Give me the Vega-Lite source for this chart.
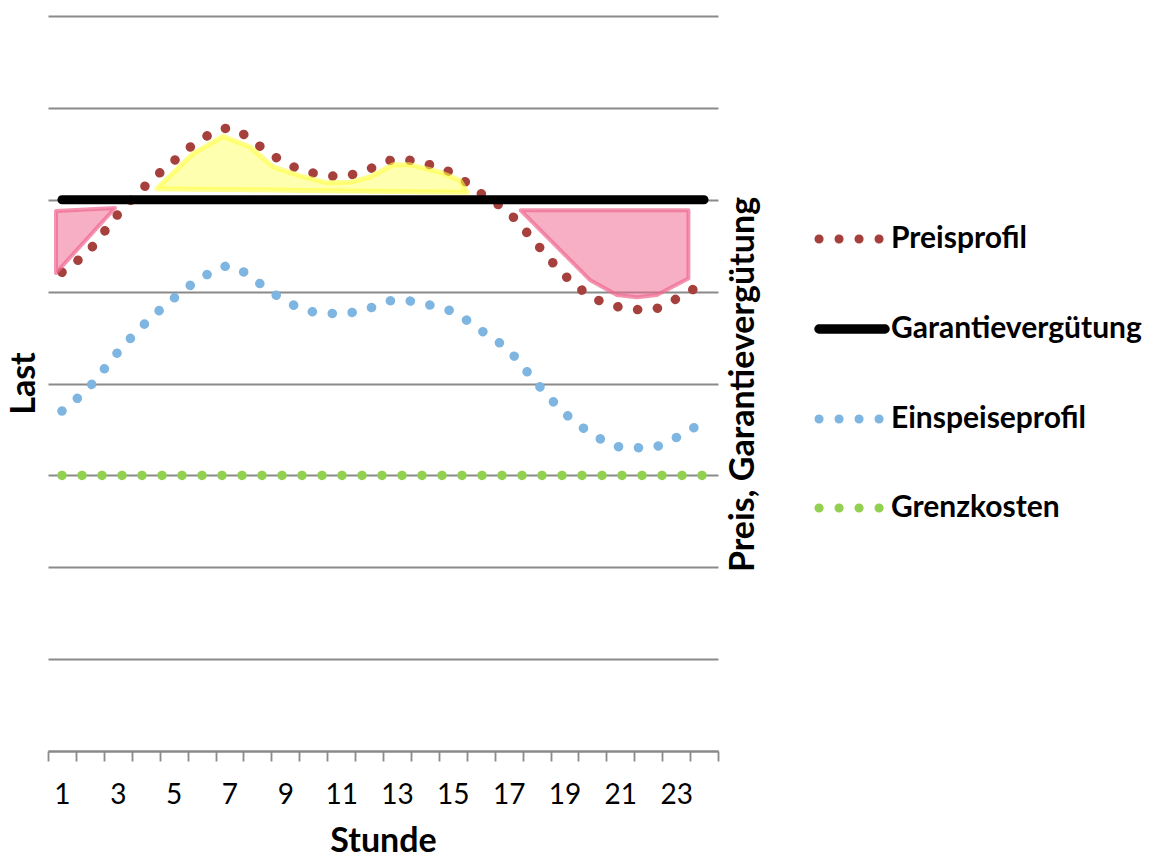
{
  "$schema": "https://vega.github.io/schema/vega-lite/v6.json",
  "width": 670,
  "height": 735,
  "autosize": "none",
  "padding": {"left": 48, "top": 16, "right": 431, "bottom": 106},
  "background": "white",
  "config": {"view": {"stroke": null}, "font": "Lato"},
  "datasets": {
    "lines": [
      {"series": "Grenzkosten", "hour": 1, "value": 3}, {"series": "Grenzkosten", "hour": 2, "value": 3}, {"series": "Grenzkosten", "hour": 3, "value": 3}, {"series": "Grenzkosten", "hour": 4, "value": 3}, {"series": "Grenzkosten", "hour": 5, "value": 3}, {"series": "Grenzkosten", "hour": 6, "value": 3}, {"series": "Grenzkosten", "hour": 7, "value": 3}, {"series": "Grenzkosten", "hour": 8, "value": 3}, {"series": "Grenzkosten", "hour": 9, "value": 3}, {"series": "Grenzkosten", "hour": 10, "value": 3}, {"series": "Grenzkosten", "hour": 11, "value": 3}, {"series": "Grenzkosten", "hour": 12, "value": 3}, {"series": "Grenzkosten", "hour": 13, "value": 3}, {"series": "Grenzkosten", "hour": 14, "value": 3}, {"series": "Grenzkosten", "hour": 15, "value": 3}, {"series": "Grenzkosten", "hour": 16, "value": 3}, {"series": "Grenzkosten", "hour": 17, "value": 3}, {"series": "Grenzkosten", "hour": 18, "value": 3}, {"series": "Grenzkosten", "hour": 19, "value": 3}, {"series": "Grenzkosten", "hour": 20, "value": 3}, {"series": "Grenzkosten", "hour": 21, "value": 3}, {"series": "Grenzkosten", "hour": 22, "value": 3}, {"series": "Grenzkosten", "hour": 23, "value": 3}, {"series": "Grenzkosten", "hour": 24, "value": 3},
      {"series": "Einspeiseprofil", "hour": 1, "value": 3.70}, {"series": "Einspeiseprofil", "hour": 2, "value": 3.97}, {"series": "Einspeiseprofil", "hour": 3, "value": 4.34}, {"series": "Einspeiseprofil", "hour": 4, "value": 4.66}, {"series": "Einspeiseprofil", "hour": 5, "value": 4.925}, {"series": "Einspeiseprofil", "hour": 6, "value": 5.15}, {"series": "Einspeiseprofil", "hour": 7, "value": 5.28}, {"series": "Einspeiseprofil", "hour": 8, "value": 5.105}, {"series": "Einspeiseprofil", "hour": 9, "value": 4.90}, {"series": "Einspeiseprofil", "hour": 10, "value": 4.78}, {"series": "Einspeiseprofil", "hour": 11, "value": 4.76}, {"series": "Einspeiseprofil", "hour": 12, "value": 4.82}, {"series": "Einspeiseprofil", "hour": 13, "value": 4.91}, {"series": "Einspeiseprofil", "hour": 14, "value": 4.865}, {"series": "Einspeiseprofil", "hour": 15, "value": 4.78}, {"series": "Einspeiseprofil", "hour": 16, "value": 4.58}, {"series": "Einspeiseprofil", "hour": 17, "value": 4.36}, {"series": "Einspeiseprofil", "hour": 18, "value": 4.005}, {"series": "Einspeiseprofil", "hour": 19, "value": 3.68}, {"series": "Einspeiseprofil", "hour": 20, "value": 3.45}, {"series": "Einspeiseprofil", "hour": 21, "value": 3.31}, {"series": "Einspeiseprofil", "hour": 22, "value": 3.30}, {"series": "Einspeiseprofil", "hour": 23, "value": 3.41}, {"series": "Einspeiseprofil", "hour": 24, "value": 3.59},
      {"series": "Preisprofil", "hour": 1, "value": 5.21}, {"series": "Preisprofil", "hour": 2, "value": 5.46}, {"series": "Preisprofil", "hour": 3, "value": 5.84}, {"series": "Preisprofil", "hour": 4, "value": 6.155}, {"series": "Preisprofil", "hour": 5, "value": 6.42}, {"series": "Preisprofil", "hour": 6, "value": 6.66}, {"series": "Preisprofil", "hour": 7, "value": 6.78}, {"series": "Preisprofil", "hour": 8, "value": 6.60}, {"series": "Preisprofil", "hour": 9, "value": 6.40}, {"series": "Preisprofil", "hour": 10, "value": 6.29}, {"series": "Preisprofil", "hour": 11, "value": 6.255}, {"series": "Preisprofil", "hour": 12, "value": 6.335}, {"series": "Preisprofil", "hour": 13, "value": 6.44}, {"series": "Preisprofil", "hour": 14, "value": 6.395}, {"series": "Preisprofil", "hour": 15, "value": 6.285}, {"series": "Preisprofil", "hour": 16, "value": 6.07}, {"series": "Preisprofil", "hour": 17, "value": 5.86}, {"series": "Preisprofil", "hour": 18, "value": 5.52}, {"series": "Preisprofil", "hour": 19, "value": 5.18}, {"series": "Preisprofil", "hour": 20, "value": 4.94}, {"series": "Preisprofil", "hour": 21, "value": 4.83}, {"series": "Preisprofil", "hour": 22, "value": 4.80}, {"series": "Preisprofil", "hour": 23, "value": 4.92}, {"series": "Preisprofil", "hour": 24, "value": 5.10},
      {"series": "Garantievergütung", "hour": 1, "value": 6}, {"series": "Garantievergütung", "hour": 2, "value": 6}, {"series": "Garantievergütung", "hour": 3, "value": 6}, {"series": "Garantievergütung", "hour": 4, "value": 6}, {"series": "Garantievergütung", "hour": 5, "value": 6}, {"series": "Garantievergütung", "hour": 6, "value": 6}, {"series": "Garantievergütung", "hour": 7, "value": 6}, {"series": "Garantievergütung", "hour": 8, "value": 6}, {"series": "Garantievergütung", "hour": 9, "value": 6}, {"series": "Garantievergütung", "hour": 10, "value": 6}, {"series": "Garantievergütung", "hour": 11, "value": 6}, {"series": "Garantievergütung", "hour": 12, "value": 6}, {"series": "Garantievergütung", "hour": 13, "value": 6}, {"series": "Garantievergütung", "hour": 14, "value": 6}, {"series": "Garantievergütung", "hour": 15, "value": 6}, {"series": "Garantievergütung", "hour": 16, "value": 6}, {"series": "Garantievergütung", "hour": 17, "value": 6}, {"series": "Garantievergütung", "hour": 18, "value": 6}, {"series": "Garantievergütung", "hour": 19, "value": 6}, {"series": "Garantievergütung", "hour": 20, "value": 6}, {"series": "Garantievergütung", "hour": 21, "value": 6}, {"series": "Garantievergütung", "hour": 22, "value": 6}, {"series": "Garantievergütung", "hour": 23, "value": 6}, {"series": "Garantievergütung", "hour": 24, "value": 6}
    ],
    "shapes": [
      {"shape": "L", "kind": "loss", "hour": 0.787, "top": 5.877, "bottom": 5.203},
      {"shape": "L", "kind": "loss", "hour": 2.90, "top": 5.91, "bottom": 5.91},
      {"shape": "R", "kind": "loss", "hour": 17.43, "top": 5.885, "bottom": 5.885},
      {"shape": "R", "kind": "loss", "hour": 19.91, "top": 5.885, "bottom": 5.127},
      {"shape": "R", "kind": "loss", "hour": 20.88, "top": 5.885, "bottom": 4.963},
      {"shape": "R", "kind": "loss", "hour": 21.60, "top": 5.885, "bottom": 4.94},
      {"shape": "R", "kind": "loss", "hour": 22.31, "top": 5.885, "bottom": 4.963},
      {"shape": "R", "kind": "loss", "hour": 23.44, "top": 5.885, "bottom": 5.143},
      {"shape": "Y", "kind": "gain", "hour": 4.40, "top": 6.12, "bottom": 6.12},
      {"shape": "Y", "kind": "gain", "hour": 5.69, "top": 6.50, "bottom": 6.115},
      {"shape": "Y", "kind": "gain", "hour": 6.77, "top": 6.69, "bottom": 6.111},
      {"shape": "Y", "kind": "gain", "hour": 7.74, "top": 6.574, "bottom": 6.108},
      {"shape": "Y", "kind": "gain", "hour": 8.56, "top": 6.357, "bottom": 6.105},
      {"shape": "Y", "kind": "gain", "hour": 9.53, "top": 6.26, "bottom": 6.102},
      {"shape": "Y", "kind": "gain", "hour": 10.49, "top": 6.184, "bottom": 6.098},
      {"shape": "Y", "kind": "gain", "hour": 11.32, "top": 6.19, "bottom": 6.095},
      {"shape": "Y", "kind": "gain", "hour": 12.03, "top": 6.248, "bottom": 6.093},
      {"shape": "Y", "kind": "gain", "hour": 12.86, "top": 6.38, "bottom": 6.09},
      {"shape": "Y", "kind": "gain", "hour": 13.47, "top": 6.38, "bottom": 6.087},
      {"shape": "Y", "kind": "gain", "hour": 14.54, "top": 6.30, "bottom": 6.083},
      {"shape": "Y", "kind": "gain", "hour": 15.26, "top": 6.21, "bottom": 6.081},
      {"shape": "Y", "kind": "gain", "hour": 15.51, "top": 6.08, "bottom": 6.08}
    ]
  },
  "encoding": {
    "x": {
      "field": "hour",
      "type": "quantitative",
      "scale": {"domain": [0.5, 24.5], "nice": false, "zero": false},
      "axis": {
        "values": [0.5, 1.5, 2.5, 3.5, 4.5, 5.5, 6.5, 7.5, 8.5, 9.5, 10.5, 11.5, 12.5, 13.5, 14.5, 15.5, 16.5, 17.5, 18.5, 19.5, 20.5, 21.5, 22.5, 23.5, 24.5],
        "labelExpr": "datum.value < 24 && (datum.value + 0.5) % 2 == 1 ? '' + (datum.value + 0.5) : ''",
        "labelOffset": 13.96,
        "grid": false,
        "domain": true,
        "domainColor": "#8a8a8a",
        "domainWidth": 1.8,
        "ticks": true,
        "tickColor": "#8a8a8a",
        "tickWidth": 1.8,
        "tickSize": 10,
        "labelFont": "Lato",
        "labelFontSize": 28,
        "labelColor": "#000000",
        "labelBaseline": "alphabetic",
        "labelPadding": 42,
        "labelFlush": false,
        "labelOverlap": false,
        "labelBound": false,
        "title": "Stunde",
        "titleFont": "Lato",
        "titleFontSize": 34,
        "titleFontWeight": "bold",
        "titleColor": "#000000",
        "titleBaseline": "alphabetic",
        "titleY": 100
      }
    }
  },
  "layer": [
    {
      "data": {"name": "lines"},
      "transform": [{"filter": "datum.series !== 'Garantievergütung'"}],
      "mark": {"type": "line", "strokeWidth": 9.5, "strokeCap": "round", "strokeDash": [0.1, 19.9], "interpolate": "monotone"},
      "encoding": {
        "y": {
          "field": "value",
          "type": "quantitative",
          "scale": {"domain": [0, 8], "nice": false},
          "axis": {
            "orient": "left",
            "values": [0, 1, 2, 3, 4, 5, 6, 7, 8],
            "grid": true,
            "gridColor": "#8a8a8a",
            "gridWidth": 1.8,
            "domain": false,
            "ticks": false,
            "labels": false,
            "title": "Last",
            "titleFont": "Lato",
            "titleFontSize": 34,
            "titleFontWeight": "bold",
            "titleColor": "#000000",
            "titleAngle": -90,
            "titleAlign": "center",
            "titleBaseline": "alphabetic",
            "titleX": -14,
            "titleY": 367
          }
        },
        "color": {
          "field": "series",
          "type": "nominal",
          "scale": {"domain": ["Preisprofil", "Garantievergütung", "Einspeiseprofil", "Grenzkosten"], "range": ["#A5403D", "#000000", "#7EB6E1", "#92D050"]},
          "legend": {
            "title": null,
            "orient": "none",
            "legendX": 789,
            "legendY": 208,
            "direction": "vertical",
            "symbolType": "stroke",
            "symbolSize": 4356,
            "symbolStrokeWidth": 9,
            "labelFont": "Lato",
            "labelFontSize": 30,
            "labelFontWeight": "bold",
            "labelColor": "#000000",
            "labelOffset": 24,
            "labelLimit": 400,
            "rowPadding": 53,
            "padding": 0,
            "encode": {
              "symbols": {
                "update": {
                  "strokeDash": {"signal": "datum.value === 'Garantievergütung' ? [1, 0] : [0.1, 19.9]"},
                  "strokeCap": {"value": "round"},
                  "strokeWidth": {"signal": "datum.value === 'Garantievergütung' ? 9.5 : 9"}
                }
              }
            }
          }
        }
      }
    },
    {
      "data": {"name": "lines"},
      "transform": [{"filter": "datum.series === 'Garantievergütung'"}],
      "mark": {"type": "line", "strokeWidth": 9, "strokeCap": "round"},
      "encoding": {
        "y": {"field": "value", "type": "quantitative", "scale": {"domain": [0, 8], "nice": false}, "axis": null},
        "color": {
          "field": "series",
          "type": "nominal",
          "scale": {"domain": ["Preisprofil", "Garantievergütung", "Einspeiseprofil", "Grenzkosten"], "range": ["#A5403D", "#000000", "#7EB6E1", "#92D050"]},
          "legend": {
            "title": null,
            "orient": "none",
            "legendX": 789,
            "legendY": 208,
            "direction": "vertical",
            "symbolType": "stroke",
            "symbolSize": 4356,
            "symbolStrokeWidth": 9,
            "labelFont": "Lato",
            "labelFontSize": 30,
            "labelFontWeight": "bold",
            "labelColor": "#000000",
            "labelOffset": 24,
            "labelLimit": 400,
            "rowPadding": 53,
            "padding": 0,
            "encode": {
              "symbols": {
                "update": {
                  "strokeDash": {"signal": "datum.value === 'Garantievergütung' ? [1, 0] : [0.1, 19.9]"},
                  "strokeCap": {"value": "round"},
                  "strokeWidth": {"signal": "datum.value === 'Garantievergütung' ? 9.5 : 9"}
                }
              }
            }
          }
        }
      }
    },
    {
      "data": {"name": "shapes"},
      "transform": [{"filter": "datum.kind === 'loss'"}],
      "mark": {"type": "area", "fill": "#F0668F", "fillOpacity": 0.52, "stroke": "#F0668F", "strokeOpacity": 0.7, "strokeWidth": 4, "strokeJoin": "round"},
      "encoding": {
        "y": {
          "field": "top",
          "type": "quantitative",
          "scale": {"domain": [0, 8], "nice": false},
          "axis": {
            "orient": "right",
            "grid": false,
            "domain": false,
            "ticks": false,
            "labels": false,
            "title": "Preis, Garantievergütung",
            "titleFont": "Lato",
            "titleFontSize": 34,
            "titleFontWeight": "bold",
            "titleColor": "#000000",
            "titleAngle": -90,
            "titleAlign": "center",
            "titleBaseline": "alphabetic",
            "titleX": 35,
            "titleY": 368
          }
        },
        "y2": {"field": "bottom"},
        "detail": {"field": "shape", "type": "nominal"}
      }
    },
    {
      "data": {"name": "shapes"},
      "transform": [{"filter": "datum.kind === 'gain'"}],
      "mark": {"type": "area", "fill": "#FFFF70", "fillOpacity": 0.55, "stroke": "#FFFF40", "strokeOpacity": 0.6, "strokeWidth": 5, "strokeJoin": "round"},
      "encoding": {
        "y": {"field": "top", "type": "quantitative", "scale": {"domain": [0, 8], "nice": false}, "axis": null},
        "y2": {"field": "bottom"},
        "detail": {"field": "shape", "type": "nominal"}
      }
    }
  ],
  "resolve": {"axis": {"y": "independent"}}
}
